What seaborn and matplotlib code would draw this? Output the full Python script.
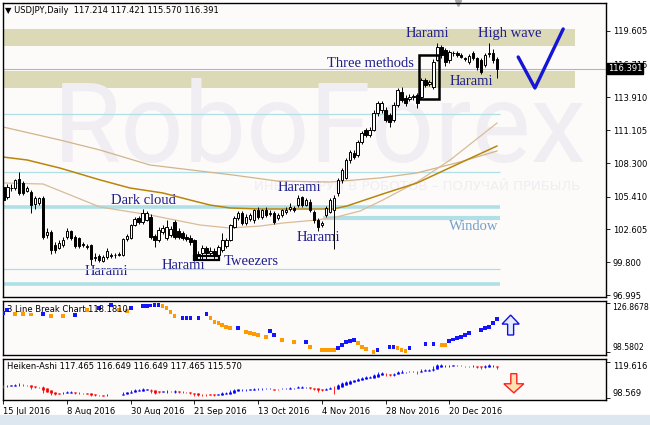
import numpy as np
import pandas as pd
import matplotlib
matplotlib.use("Agg")
import matplotlib.pyplot as plt
import seaborn as sns
from matplotlib.patches import Rectangle, FancyArrow
from matplotlib import transforms

sns.set_theme(style="white")
plt.rcParams["font.family"] = ["DejaVu Sans"]

# USDJPY daily candles, bar 0 = 15 Jul 2016 ... bar 124 = 5 Jan 2017
opens = [106.25, 105.39, 106.16, 106.16, 106.90, 106.59, 105.90, 105.82, 104.80, 104.87,
         105.30, 102.10, 102.39, 101.28, 101.02, 101.28, 101.96, 102.47, 101.96, 101.90,
         101.36, 101.10, 101.28, 100.20, 100.34, 99.91, 100.25, 100.34, 100.40, 100.45,
         100.42, 101.79, 101.88, 102.99, 103.59, 103.25, 103.42, 103.68, 102.05, 101.71,
         102.40, 101.88, 102.13, 103.25, 102.50, 102.30, 102.00, 101.90, 101.70, 100.10,
         100.60, 101.00, 100.60, 100.80, 100.40, 100.85, 101.19, 101.71, 102.82, 103.59,
         104.02, 103.16, 103.50, 103.42, 104.28, 103.68, 104.28, 103.95, 104.02, 103.60,
         103.85, 104.10, 104.40, 104.45, 104.70, 105.40, 104.70, 105.00, 104.10, 103.42,
         103.00, 103.85, 104.10, 104.28, 105.73, 106.85, 107.02, 108.56, 109.16, 108.99,
         110.10, 111.13, 110.70, 111.13, 112.58, 112.80, 112.84, 112.41, 111.98, 113.27,
         114.40, 113.90, 113.80, 113.95, 114.12, 113.95, 115.41, 115.10, 114.81, 117.12,
         118.24, 117.98, 117.12, 117.72, 117.72, 117.55, 117.25, 116.95, 117.72, 117.29,
         117.12, 116.69, 117.65, 117.72, 117.214]
highs = [106.42, 106.50, 106.50, 106.94, 107.53, 106.80, 106.30, 106.00, 105.50, 105.40,
         105.50, 102.70, 102.60, 101.50, 101.70, 102.00, 102.70, 102.60, 102.10, 102.00,
         101.50, 101.40, 101.40, 100.60, 100.50, 100.40, 101.00, 100.60, 100.60, 100.70,
         101.90, 102.20, 103.10, 103.70, 103.80, 104.36, 104.20, 103.90, 102.20, 102.80,
         103.00, 103.42, 102.90, 103.42, 102.70, 102.50, 102.20, 102.10, 101.80, 100.80,
         101.30, 101.20, 101.10, 101.00, 101.30, 102.30, 101.90, 103.10, 103.80, 104.20,
         104.20, 103.90, 104.00, 104.40, 104.50, 104.40, 104.50, 104.30, 104.20, 104.00,
         104.40, 104.50, 104.90, 104.60, 105.56, 105.50, 105.30, 105.20, 104.30, 103.60,
         103.30, 104.60, 105.30, 105.60, 107.00, 107.90, 108.70, 109.40, 109.40, 110.30,
         111.00, 111.30, 111.40, 112.80, 113.60, 113.60, 113.10, 112.60, 113.50, 114.70,
         114.80, 114.10, 114.20, 114.20, 114.30, 115.60, 115.60, 115.40, 117.20, 118.58,
         118.40, 118.15, 118.00, 117.90, 117.90, 117.70, 117.40, 117.60, 117.90, 117.40,
         117.30, 117.70, 118.58, 118.10, 117.421]
lows = [104.70, 105.20, 105.90, 106.00, 105.60, 105.60, 105.80, 104.02, 104.40, 104.70,
        101.80, 101.90, 100.50, 100.60, 100.90, 101.10, 101.80, 101.70, 101.00, 101.00,
        101.10, 100.90, 99.57, 99.90, 99.80, 99.80, 100.10, 100.20, 100.20, 100.30,
        100.30, 101.60, 101.80, 102.90, 103.10, 103.10, 103.30, 101.80, 101.11, 101.50,
        102.20, 101.70, 102.00, 101.80, 101.80, 101.70, 101.60, 101.30, 99.90, 99.95,
        100.00, 100.10, 100.30, 100.00, 100.20, 100.70, 101.00, 101.60, 102.70, 103.40,
        103.00, 103.00, 103.30, 103.20, 103.50, 103.50, 103.70, 103.80, 103.10, 103.40,
        103.70, 103.90, 104.20, 104.10, 104.50, 104.50, 104.60, 104.10, 103.20, 102.47,
        102.80, 103.70, 104.00, 100.90, 105.50, 106.60, 106.90, 108.30, 108.60, 108.80,
        109.90, 110.50, 110.50, 111.00, 112.30, 112.60, 111.80, 111.38, 111.80, 113.10,
        113.50, 113.20, 113.60, 113.70, 113.00, 113.80, 114.80, 114.90, 114.60, 117.00,
        117.30, 116.60, 116.90, 117.50, 117.40, 117.30, 117.00, 116.80, 117.10, 116.30,
        115.90, 116.50, 117.40, 116.90, 115.570]
closes = [105.13, 106.25, 106.20, 106.85, 105.73, 105.73, 106.16, 104.70, 105.30, 105.30,
          101.96, 102.39, 100.85, 100.85, 101.45, 101.71, 102.47, 101.88, 101.19, 101.19,
          101.30, 101.19, 100.08, 100.25, 99.99, 100.25, 100.77, 100.38, 100.45, 100.52,
          101.79, 102.05, 102.99, 103.50, 103.25, 104.02, 104.02, 101.96, 101.71, 102.56,
          102.73, 102.82, 102.65, 101.96, 101.96, 101.90, 101.80, 101.50, 100.08, 100.50,
          101.00, 100.60, 100.80, 100.40, 101.10, 101.71, 101.71, 102.99, 103.59, 104.02,
          103.16, 103.68, 103.85, 104.28, 103.68, 104.28, 103.85, 104.02, 103.25, 103.85,
          104.28, 104.28, 104.50, 104.30, 105.30, 104.70, 105.13, 104.28, 103.42, 102.82,
          103.20, 104.45, 105.13, 105.30, 106.85, 107.70, 108.56, 109.24, 108.81, 110.10,
          110.87, 110.70, 111.13, 112.58, 113.44, 113.44, 111.98, 111.81, 113.27, 114.55,
          113.70, 113.44, 113.95, 114.00, 113.44, 115.41, 114.98, 115.20, 116.95, 118.24,
          117.55, 116.95, 117.81, 117.68, 117.55, 117.42, 117.21, 117.46, 117.29, 116.52,
          116.09, 117.55, 117.72, 117.12, 116.391]

# moving averages (bar, price)
ma_fast_bar = [0, 10.0, 16.8, 24.3, 36.8, 49.4, 56.9, 64.5, 70.2, 78.8, 83.8, 89.6, 95.3, 103.9, 112.2, 124.0]
ma_fast_val = [106.59, 106.50, 105.56, 104.53, 103.85, 102.99, 102.73, 102.90, 103.16, 103.42, 103.68,
               104.19, 105.13, 106.67, 108.56, 111.73]
ma_mid_bar = [0, 5.95, 14.2, 24.3, 31.8, 40.1, 46.9, 51.9, 56.9, 64.5, 74.5, 82.8, 86.3, 95.3, 103.9, 114.7, 124.0]
ma_mid_val = [108.81, 108.56, 107.87, 106.85, 106.16, 105.73, 105.13, 104.70, 104.45, 104.36, 104.36,
              104.36, 104.62, 105.65, 106.59, 108.30, 109.76]
ma_slow_bar = [0, 14.2, 24.3, 36.8, 57.7, 68.7, 82.0, 94.6, 103.9, 114.7, 124.0]
ma_slow_val = [111.38, 110.27, 109.41, 108.13, 107.27, 106.76, 106.67, 107.02, 107.45, 108.39, 109.33]

# 3 line break blocks: bar, level, direction (u = up block, d = down block)
lb_bar = [0, 1, 3, 5, 7, 10, 12, 15, 18, 21,
          24, 27, 29, 31, 32, 35, 36, 37, 38, 39,
          40, 41, 42, 43, 45, 46, 47, 49, 51, 52,
          53, 54, 55, 56, 57, 59, 61, 62, 63, 64,
          66, 67, 68, 70, 73, 76, 77, 80, 81, 82,
          83, 84, 85, 86, 87, 88, 89, 90, 91, 93,
          94, 97, 98, 99, 100, 101, 102, 106, 108, 110,
          111, 112, 113, 114, 115, 116, 117, 120, 121, 122,
          123, 124]
lb_val = [121.1, 122.8, 120.5, 120.5, 120.3, 120.5, 119.4, 119.4, 120.0, 122.8,
          124.0, 125.7, 122.8, 122.2, 124.0, 125.1, 125.1, 125.4, 125.7, 125.7,
          125.1, 124.0, 121.7, 119.4, 118.2, 118.2, 118.2, 118.2, 120.5, 118.2,
          115.9, 115.3, 114.2, 113.0, 112.4, 112.4, 110.1, 109.5, 108.9, 108.4,
          107.2, 110.7, 108.4, 105.5, 104.3, 104.3, 101.5, 99.7, 99.7, 99.7,
          99.7, 100.9, 102.6, 104.3, 104.9, 105.5, 103.8, 101.5, 100.3, 98.6,
          99.7, 101.5, 101.5, 100.9, 99.7, 99.2, 100.9, 103.2, 103.2, 102.6,
          102.6, 104.9, 105.8, 106.7, 107.2, 108.4, 109.5, 111.3, 112.4, 113.0,
          115.3, 117.6]
lb_dir = ["u", "u", "d", "d", "d", "u", "d", "d", "u", "d",
          "u", "u", "d", "d", "u", "u", "u", "u", "u", "u",
          "d", "d", "d", "d", "u", "u", "u", "u", "u", "d",
          "d", "d", "d", "d", "d", "u", "d", "d", "d", "d",
          "d", "u", "u", "d", "d", "u", "d", "d", "d", "d",
          "d", "u", "u", "u", "u", "u", "d", "d", "d", "d",
          "u", "u", "u", "d", "d", "d", "u", "u", "u", "d",
          "d", "u", "u", "u", "u", "u", "u", "u", "u", "u",
          "u", "u"]

date_bars = [0, 16, 32, 48, 64, 80, 96, 112]
date_labels = ["15 Jul 2016", "8 Aug 2016", "30 Aug 2016", "21 Sep 2016",
               "13 Oct 2016", "4 Nov 2016", "28 Nov 2016", "20 Dec 2016"]
price_ticks = [96.995, 99.800, 102.605, 105.410, 108.300, 111.105, 113.910, 116.715, 119.605]
last_price = 116.391

beige_zones = [(118.32, 119.78), (114.72, 116.18)]
thin_levels = [112.47, 107.56, 99.22]
thick_levels = [104.49, 97.90]
window_level = 103.55

patterns = [("Harami", 106.4, 119.35), ("High wave", 127.2, 119.35), ("Three methods", 92.3, 116.78),
            ("Harami", 117.5, 115.24), ("Harami", 74.4, 106.16), ("Dark cloud", 35.1, 105.05),
            ("Harami", 79.0, 101.88), ("Harami", 26.0, 99.05), ("Harami", 45.1, 99.48),
            ("Tweezers", 62.2, 99.90)]
check_mark = ([129.3, 133.5, 140.6], [117.38, 114.72, 119.78])

o, h, l, c = map(np.array, (opens, highs, lows, closes))
x = np.arange(len(c))
xlim = (-0.08, 151.35)
panel_bg = "#fdfafa"

fig = plt.figure(figsize=(6.5, 4.25), dpi=100)
fig.patch.set_facecolor("white")
fig.patches.append(Rectangle((0, 0), 1, 10 / 425, transform=fig.transFigure, color="#dde7f0", zorder=0))

ax = fig.add_axes([3 / 650, 1 - 297 / 425, 603 / 650, 294 / 425])
ax_lb = fig.add_axes([3 / 650, 1 - 355 / 425, 603 / 650, 54 / 425])
ax_ha = fig.add_axes([3 / 650, 1 - 400 / 425, 603 / 650, 41 / 425])

for a in (ax, ax_lb, ax_ha):
    a.set_facecolor(panel_bg)
    a.set_xlim(*xlim)
    for s in a.spines.values():
        s.set_color("black")
        s.set_linewidth(1.0)
    a.yaxis.tick_right()
    a.tick_params(axis="y", direction="out", length=3, width=0.6, pad=2, labelsize=6,
                  colors="black", left=False, right=True)
    a.tick_params(axis="x", bottom=False, labelbottom=False)
    a.grid(False)

# ---------------- main price panel ----------------
ax.set_ylim(96.824, 122.003)
for lo, hi in beige_zones:
    ax.axhspan(lo, hi, xmin=0, xmax=0.9486, color="#dcdab6", lw=0, zorder=0.5)
ax.text(79.5, 111.0, "RoboForex", fontsize=80, family="Roboto", color="#f0eef2",
        ha="center", va="center", zorder=0.6)
ax.text(145, 106.3, "ИНВЕСТИРУЙ В РОБОТОВ – ПОЛУЧАЙ ПРИБЫЛЬ", fontsize=9.5, color="#f0edf3",
        ha="right", va="center", zorder=0.6)

for name, bx, py in patterns:
    ax.text(bx, py, name, fontsize=10.5, family="Liberation Serif", color="#1e1e8c",
            ha="center", va="center", zorder=1)
ax.text(118.2, 102.82, "Window", fontsize=10.5, family="Liberation Serif", color="#72a0c8",
        ha="center", va="center", zorder=1)

ax.hlines(thin_levels, -1, 124.7, color="#b0e0e6", lw=0.9, zorder=1.5)
ax.hlines(thick_levels, -1, 124.7, color="#b0e0e6", lw=2.6, zorder=1.5)
ax.hlines(window_level, 80.3, 124.7, color="#b0e0e6", lw=3.0, zorder=1.5)

sns.lineplot(x=ma_slow_bar, y=ma_slow_val, ax=ax, color="#d2b48c", lw=0.9, zorder=2)
sns.lineplot(x=ma_fast_bar, y=ma_fast_val, ax=ax, color="#d8bc98", lw=0.9, zorder=2)
sns.lineplot(x=ma_mid_bar, y=ma_mid_val, ax=ax, color="#b8860b", lw=1.1, zorder=2)

ax.axhline(last_price, color="#b4b4b4", lw=0.8, zorder=2.5)

up = c >= o
ax.vlines(x, l, h, color="black", lw=0.7, zorder=3)
ax.bar(x[up], c[up] - o[up], bottom=o[up], width=0.62, color="white", edgecolor="black", lw=0.7, zorder=4)
ax.bar(x[~up], o[~up] - c[~up], bottom=c[~up], width=0.62, color="black", edgecolor="black", lw=0.7, zorder=4)

ax.add_patch(Rectangle((47.9, 99.99), 6.3, 0.35, fill=False, ec="black", lw=1.6, zorder=5))
ax.add_patch(Rectangle((104.4, 113.78), 5.0, 3.77, fill=False, ec="black", lw=1.8, zorder=5))
ax.plot(*check_mark, color="#1515d5", lw=2.4, zorder=5)

ax.set_yticks(price_ticks)
ax.set_yticklabels([f"{v:.3f}" for v in price_ticks])
ax.set_xlabel("")
ax.set_ylabel("")
ax.text(1.003, last_price, f"{last_price:.3f}", transform=transforms.blended_transform_factory(ax.transAxes, ax.transData),
        fontsize=6, color="white", ha="left", va="center",
        bbox=dict(boxstyle="square,pad=0.15", fc="black", ec="black"), clip_on=False, zorder=10)
ax.text(0.004, 0.976, "▼ USDJPY,Daily  117.214 117.421 115.570 116.391", transform=ax.transAxes,
        fontsize=6, color="black", ha="left", va="center")
ax.plot([114.2], [1.0], marker="v", ms=5, color="#a8a8a8",
        transform=transforms.blended_transform_factory(ax.transData, ax.transAxes), clip_on=False)

# ---------------- 3 line break panel ----------------
lb = pd.DataFrame({"bar": lb_bar, "val": lb_val, "dir": lb_dir})
sns.scatterplot(data=lb, x="bar", y="val", hue="dir", palette={"u": "#1414ff", "d": "#ff9a00"},
                marker="s", s=7, linewidth=0, legend=False, ax=ax_lb, zorder=3)
ax_lb.set_xlim(*xlim)
ax_lb.set_ylim(96.85, 128.02)
ax_lb.set_yticks([98.5802, 126.8678])
ax_lb.set_yticklabels(["98.5802", "126.8678"])
ax_lb.tick_params(axis="y", labelsize=5.6, pad=1.5)
ax_lb.get_yticklabels()[0].set_va("bottom")
ax_lb.get_yticklabels()[1].set_va("top")
ax_lb.set_xlabel("")
ax_lb.set_ylabel("")
ax_lb.text(0.006, 0.85, "3 Line Break Chart 118.1810", transform=ax_lb.transAxes, fontsize=6,
           color="black", ha="left", va="center")
ax_lb.add_patch(FancyArrow(127.4, 108.4, 0, 11.5, width=1.5, head_width=4.3, head_length=5.2,
                           length_includes_head=True, fc="#e6ecff", ec="#1010e0", lw=1.0, zorder=4))

# ---------------- Heiken-Ashi panel ----------------
ha_c = (o + h + l + c) / 4
ha_o = np.empty_like(ha_c)
ha_o[0] = (o[0] + c[0]) / 2
for i in range(1, len(ha_c)):
    ha_o[i] = (ha_o[i - 1] + ha_c[i - 1]) / 2
ha_h = np.maximum.reduce([h, ha_o, ha_c])
ha_l = np.minimum.reduce([l, ha_o, ha_c])
ha_col = np.where(ha_c >= ha_o, "#0000ff", "#ff0000")
ax_ha.vlines(x, ha_l, ha_h, colors=ha_col, lw=0.6, zorder=3)
ax_ha.vlines(x, np.minimum(ha_o, ha_c), np.maximum(ha_o, ha_c), colors=ha_col, lw=2.0, zorder=3)
ax_ha.set_ylim(97.5, 121.5)
ax_ha.set_yticks([98.569, 119.616])
ax_ha.set_yticklabels(["98.569", "119.616"])
ax_ha.get_yticklabels()[0].set_va("bottom")
ax_ha.get_yticklabels()[1].set_va("top")
ax_ha.text(0.006, 0.805, "Heiken-Ashi 117.465 116.649 116.649 117.465 115.570", transform=ax_ha.transAxes,
           fontsize=6, color="black", ha="left", va="center")
ax_ha.add_patch(FancyArrow(128.2, 112.9, 0, -11.2, width=1.5, head_width=5.0, head_length=5.3,
                           length_includes_head=True, fc="#ffe0b0", ec="#ff2020", lw=1.0, zorder=4))
ax_ha.set_xticks(date_bars)
ax_ha.set_xticklabels(date_labels, ha="left")
ax_ha.tick_params(axis="x", bottom=True, labelbottom=True, direction="out", length=3, width=0.6,
                  pad=2, labelsize=6, colors="black")

fig.savefig("out.png", dpi=100)
